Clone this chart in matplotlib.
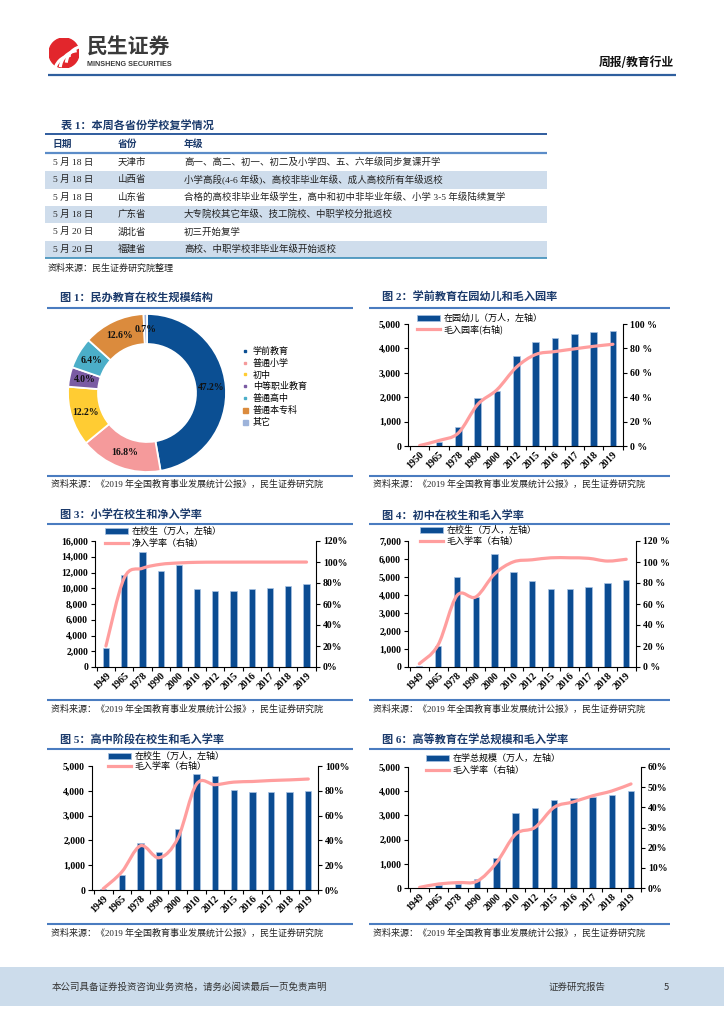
import numpy as np
import matplotlib
matplotlib.use('Agg')
import matplotlib.pyplot as plt
from matplotlib.lines import Line2D
from matplotlib.patches import Rectangle, Circle, PathPatch, Arc
from matplotlib.path import Path
from matplotlib.ticker import FuncFormatter, FixedLocator

plt.rcParams['font.family'] = ['Liberation Serif', 'Noto Sans CJK SC', 'DejaVu Sans']
plt.rcParams['axes.unicode_minus'] = False

# ---------------- data ----------------
table_dates = ['5 月 18 日', '5 月 18 日', '5 月 18 日', '5 月 18 日', '5 月 20 日', '5 月 20 日']
table_provinces = ['天津市', '山西省', '山东省', '广东省', '湖北省', '福建省']
table_grades = ['高一、高二、初一、初二及小学四、五、六年级同步复课开学',
                '小学高段(4-6 年级)、高校非毕业年级、成人高校所有年级返校',
                '合格的高校非毕业年级学生，高中和初中非毕业年级、小学 3-5 年级陆续复学',
                '大专院校其它年级、技工院校、中职学校分批返校',
                '初三开始复学',
                '高校、中职学校非毕业年级开始返校']
table_header = ['日期', '省份', '年级']

pie_labels = ['学前教育', '普通小学', '初中', '中等职业教育', '普通高中', '普通本专科', '其它']
pie_values = [47.2, 16.8, 12.2, 4.0, 6.4, 12.6, 0.7]

fig2_years = ['1950', '1965', '1978', '1990', '2000', '2012', '2015', '2016', '2017', '2018', '2019']
fig2_kids = [14, 171, 788, 1972, 2244, 3686, 4265, 4414, 4600, 4656, 4714]
fig2_rate = [0.4, 4.5, 10.6, 34.0, 46.1, 64.5, 75.0, 77.4, 79.6, 81.7, 83.4]

years12 = ['1949', '1965', '1978', '1990', '2000', '2010', '2012', '2015', '2016', '2017', '2018', '2019']
fig3_students = [2439, 11621, 14624, 12241, 13013, 9941, 9696, 9692, 9913, 10094, 10339, 10561]
fig3_rate = [20.0, 84.7, 94.0, 97.8, 99.1, 99.7, 99.85, 99.88, 99.92, 99.91, 99.95, 99.94]

fig4_students = [83, 1170, 4995, 3869, 6256, 5276, 4763, 4312, 4329, 4442, 4653, 4827]
fig4_rate = [3.1, 21.0, 68.0, 66.7, 88.6, 100.1, 102.1, 104.0, 104.0, 103.5, 100.9, 102.6]

fig5_students = [21, 620, 1890, 1527, 2446, 4676, 4595, 4038, 3970, 3971, 3935, 3995]
fig5_rate = [1.0, 14.6, 35.7, 26.0, 41.6, 85.3, 84.9, 87.0, 87.5, 88.3, 88.8, 89.5]

fig6_total = [12, 110, 165, 382, 1230, 3105, 3325, 3647, 3699, 3779, 3833, 4002]
fig6_rate = [0.3, 2.0, 2.7, 3.4, 12.5, 26.7, 30.0, 40.0, 42.7, 45.7, 48.1, 51.6]

# ---------------- styles ----------------
W, H = 724, 1024
BAR_C = '#0B4C92'
BAR_EDGE = '#A8C2E2'
LINE_C = '#FF9E9E'
TITLE_C = '#1B3A6B'
RULE_C = '#4A7CC0'
PIE_COLORS = ['#0B4F93', '#F59A9B', '#FFCC33', '#7A5BA3', '#4BAEC8', '#DB8B3D', '#9DB3DA']
CJK = ['Noto Sans CJK SC', 'DejaVu Sans']
MIX = ['Liberation Serif', 'Noto Sans CJK SC', 'DejaVu Sans']

fig = plt.figure(figsize=(W / 100, H / 100), dpi=100)
fig.patch.set_facecolor('white')


def fx(x):
    return x / W


def fy(y):
    return 1 - y / H


def ax_px(l, t, r, b):
    return fig.add_axes([l / W, 1 - b / H, (r - l) / W, (b - t) / H])


def hline(x0, x1, y, color, lw):
    fig.add_artist(Line2D([fx(x0), fx(x1)], [fy(y), fy(y)], transform=fig.transFigure,
                          color=color, lw=lw, solid_capstyle='butt'))


def ftext(x, y, s, size=6.5, family=MIX, weight='normal', color='#222222', ha='left', va='center'):
    fig.text(fx(x), fy(y), s, fontsize=size, family=family, fontweight=weight, color=color, ha=ha, va=va)


# ---------------- header ----------------
axl = ax_px(49, 38, 79, 68)
axl.set_xlim(-1, 1)
axl.set_ylim(-1, 1)
axl.set_aspect('equal')
axl.axis('off')
axl.add_patch(Circle((0, 0), 1, color='#E2262C'))
for dx, dy in [(0.55, -1.35), (0.95, -1.05), (1.35, -0.75)]:
    axl.add_patch(Arc((dx, dy), 2.4, 2.4, theta1=95, theta2=175, color='white', lw=2.2))
ftext(87, 47, '民生证券', size=15, family=CJK, weight='bold', color='#3A3A3A')
ftext(87, 64, 'MINSHENG SECURITIES', size=5.2, family=['Liberation Sans', 'DejaVu Sans'], weight='bold', color='#3A3A3A')
ftext(674, 62, '周报/教育行业', size=8.5, family=CJK, weight='bold', color='#111111', ha='right')
hline(48, 676, 75, '#2F5F9E', 1.6)

# ---------------- table ----------------
ftext(61, 126, '表 1：本周各省份学校复学情况', size=8, weight='bold', color=TITLE_C)
hline(45, 547, 134, '#1F4F96', 1.3)
col_x = [53, 118, 184]
for cx, h in zip(col_x, table_header):
    ftext(cx, 143.5, h, size=7, family=CJK, weight='bold', color=TITLE_C)
hline(45, 547, 153, '#5B8CC8', 1.6)
row_top = [153, 171, 188.5, 206, 223, 240.7]
row_bot = [171, 188.5, 206, 223, 240.7, 258]
for i in range(len(table_dates)):
    t, b = row_top[i], row_bot[i]
    if i % 2 == 1:
        fig.add_artist(Rectangle((fx(45), fy(b)), fx(547) - fx(45), fy(t) - fy(b),
                                 transform=fig.transFigure, facecolor='#CFDDEC', edgecolor='none'))
    yc = (t + b) / 2
    ftext(col_x[0], yc, table_dates[i], size=6.8)
    ftext(col_x[1], yc, table_provinces[i], size=6.8)
    ftext(col_x[2], yc, table_grades[i], size=6.8)
hline(45, 547, 258, '#3D8EB9', 1.2)
ftext(48, 268, '资料来源：民生证券研究院整理', size=6.5)

SRC = '资料来源：《2019 年全国教育事业发展统计公报》，民生证券研究院'


def frame(xl, xr, title, ty, ly, sy, sty):
    ftext(xl + 13, ty, title, size=8, weight='bold', color=TITLE_C)
    hline(xl, xr, ly, RULE_C, 1.5)
    hline(xl, xr, sy, RULE_C, 1.5)
    ftext(xl + 4, sty, SRC, size=6.5)


frame(47, 353, '图 1：民办教育在校生规模结构', 297, 308, 476, 484)
frame(369, 670, '图 2：学前教育在园幼儿和毛入园率', 297, 308, 476, 484)
frame(47, 353, '图 3：小学在校生和净入学率', 515, 524, 700, 709)
frame(369, 670, '图 4：初中在校生和毛入学率', 515, 524, 700, 709)
frame(47, 353, '图 5：高中阶段在校生和毛入学率', 740, 749, 924, 933)
frame(369, 670, '图 6：高等教育在学总规模和毛入学率', 740, 749, 924, 933)

# ---------------- figure 1: donut ----------------
cx, cy, R = 147, 393, 79
axp = ax_px(cx - R, cy - R, cx + R, cy + R)
wedges, _ = axp.pie(pie_values, colors=PIE_COLORS, startangle=90, counterclock=False, radius=1,
                    wedgeprops=dict(width=0.38, edgecolor='white', linewidth=1.3))
axp.set_xlim(-1, 1)
axp.set_ylim(-1, 1)
axp.set_aspect('equal')
axp.axis('off')
tot = sum(pie_values)
cum = 0
for v in pie_values:
    mid = cum + v / 2
    cum += v
    th = np.deg2rad(90 - 360 * mid / tot)
    axp.text(0.81 * np.cos(th), 0.81 * np.sin(th), f'{v:.1f}%', ha='center', va='center',
             fontsize=7, fontweight='bold', family=['Liberation Serif'], color='#111111')
handles = []
for i, lab in enumerate(pie_labels):
    handles.append(Line2D([], [], ls='', marker='s', color=PIE_COLORS[i], markersize=2 if i < 5 else 3.6))
axp.legend(handles, pie_labels, loc='upper left', bbox_to_anchor=(fx(242), fy(347)),
           bbox_transform=fig.transFigure, frameon=False, prop={'family': CJK, 'size': 6.5},
           handlelength=0.7, handletextpad=0.5, labelspacing=0.3, borderpad=0, borderaxespad=0)


# ---------------- combo charts ----------------
def smooth_path(xs, ys):
    pts = np.column_stack([xs, ys]).astype(float)
    n = len(pts)
    verts = [pts[0]]
    codes = [Path.MOVETO]
    for i in range(n - 1):
        p0 = pts[i - 1] if i > 0 else pts[i]
        p1 = pts[i]
        p2 = pts[i + 1]
        p3 = pts[i + 2] if i + 2 < n else pts[i + 1]
        verts += [p1 + (p2 - p0) / 6, p2 - (p3 - p1) / 6, p2]
        codes += [Path.CURVE4] * 3
    return Path(verts, codes)


def combo(pos, cats, bars, rates, ymax, ystep, rmax, rstep, labels, leg_xy, rfmt='{:.0f}%', lsp=0.25):
    l, t, r, b = pos
    ax = ax_px(l, t, r, b)
    n = len(cats)
    x = np.arange(n)
    bc = ax.bar(x, bars, width=0.34, color=BAR_C, edgecolor=BAR_EDGE, linewidth=0.5, zorder=2)
    ax.set_xlim(-0.6, n - 0.48)
    ax.set_ylim(0, ymax)
    ax.yaxis.set_major_locator(FixedLocator(np.arange(0, ymax + ystep / 2, ystep)))
    ax.yaxis.set_major_formatter(FuncFormatter(lambda v, p: f'{v:,.0f}'))
    ax.set_xticks(x)
    ax.set_xticklabels(cats, rotation=45, ha='right', va='top', rotation_mode='anchor')
    ax.set_xticks(np.arange(-0.5, n, 1.0), minor=True)
    ax.tick_params(axis='x', which='major', length=0, pad=3, labelsize=7.2)
    ax.tick_params(axis='x', which='minor', length=3, width=0.8, direction='out')
    ax.tick_params(axis='y', length=3, width=0.8, direction='out', pad=2, labelsize=7)
    for sp in ['top', 'right']:
        ax.spines[sp].set_visible(False)
    for sp in ['left', 'bottom']:
        ax.spines[sp].set_linewidth(0.8)
    ax2 = ax.twinx()
    ax2.set_ylim(0, rmax)
    ax2.yaxis.set_major_locator(FixedLocator(np.arange(0, rmax + rstep / 2, rstep)))
    ax2.yaxis.set_major_formatter(FuncFormatter(lambda v, p: rfmt.format(v)))
    ax2.tick_params(axis='y', length=3, width=0.8, direction='out', pad=2, labelsize=7)
    for sp in ['top', 'left', 'bottom']:
        ax2.spines[sp].set_visible(False)
    ax2.spines['right'].set_linewidth(0.8)
    ax2.add_patch(PathPatch(smooth_path(x, rates), facecolor='none', edgecolor=LINE_C, lw=2.3,
                            capstyle='round', joinstyle='round', zorder=3))
    for lbl in ax.get_xticklabels() + ax.get_yticklabels() + ax2.get_yticklabels():
        lbl.set_fontweight('bold')
        lbl.set_family(['Liberation Serif'])
    proxy = Line2D([], [], color=LINE_C, lw=2.3)
    ax2.legend([bc, proxy], labels, loc='upper left', bbox_to_anchor=(fx(leg_xy[0]), fy(leg_xy[1])),
               bbox_transform=fig.transFigure, frameon=False, prop={'family': CJK, 'size': 6.5},
               handlelength=2.6, handletextpad=0.3, labelspacing=lsp, borderpad=0, borderaxespad=0)
    return ax, ax2


combo((408, 324, 623, 446), fig2_years, fig2_kids, fig2_rate, 5000, 1000, 100, 20,
      ['在园幼儿（万人，左轴）', '毛入园率(右轴)'], (417, 314), rfmt='{:.0f} %', lsp=0.12)
combo((95, 541, 316, 667), years12, fig3_students, fig3_rate, 16000, 2000, 120, 20,
      ['在校生（万人，左轴）', '净入学率（右轴）'], (105, 527), lsp=0.3)
combo((408, 541, 636, 667), years12, fig4_students, fig4_rate, 7000, 1000, 120, 20,
      ['在校生（万人，左轴）', '毛入学率（右轴）'], (420, 526), rfmt='{:.0f} %', lsp=0.2)
combo((92, 766, 318, 890), years12, fig5_students, fig5_rate, 5000, 1000, 100, 20,
      ['在校生（万人，左轴）', '毛入学率（右轴）'], (108, 752), lsp=0.12)
combo((408, 767, 641, 888), years12, fig6_total, fig6_rate, 5000, 1000, 60, 10,
      ['在学总规模（万人，左轴）', '毛入学率（右轴）'], (426, 754), lsp=0.3)

# ---------------- footer ----------------
fig.add_artist(Rectangle((0, fy(1006)), 1, fy(967) - fy(1006), transform=fig.transFigure,
                         facecolor='#CCDCEB', edgecolor='none'))
ftext(52, 987, '本公司具备证券投资咨询业务资格，请务必阅读最后一页免责声明', size=6.8, family=CJK, color='#333333')
ftext(549, 987, '证券研究报告', size=6.8, family=CJK, color='#333333')
ftext(664, 987, '5', size=6.8, family=CJK, color='#333333')

fig.savefig('out.png', dpi=100, facecolor='white')
